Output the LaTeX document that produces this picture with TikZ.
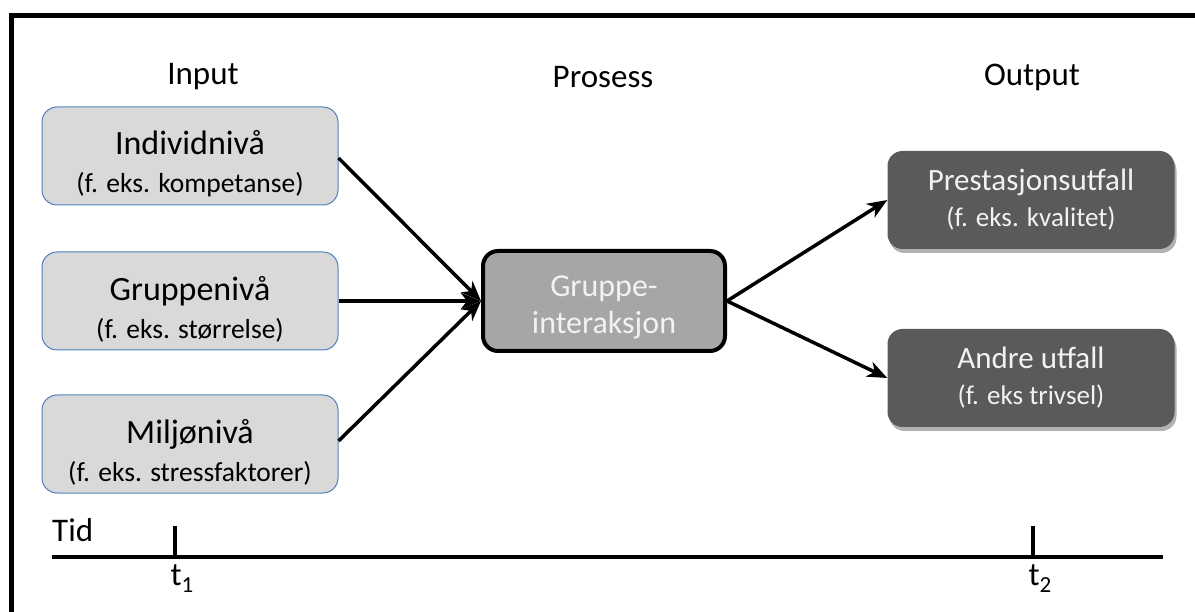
\documentclass[tikz,border=0pt]{standalone}
\usepackage{fontspec}
\setmainfont{Carlito}
\usetikzlibrary{arrows.meta,shadows}
\definecolor{inputfill}{HTML}{D9D9D9}
\definecolor{inputline}{HTML}{4F81BD}
\definecolor{procfill}{HTML}{A6A6A6}
\definecolor{outfill}{HTML}{5A5A5A}
\definecolor{lighttext}{HTML}{F2F2F2}
\tikzset{
  inbox/.style={draw=inputline, line width=1pt, fill=inputfill, rounded corners=15pt,
    minimum width=296pt, minimum height=98pt, align=center, inner sep=0pt,
    font=\fontsize{34}{40}\selectfont},
  procbox/.style={draw=black, line width=4pt, fill=procfill, rounded corners=15pt,
    minimum width=242pt, minimum height=100pt, align=center, inner sep=0pt, text=lighttext,
    font=\fontsize{32}{37}\selectfont},
  outbox/.style={fill=outfill, rounded corners=15pt, minimum width=287pt, minimum height=98pt,
    align=center, inner sep=0pt, text=lighttext, font=\fontsize{31}{38}\selectfont,
    drop shadow={shadow xshift=2pt, shadow yshift=-4pt, opacity=0.3, fill=black}},
  conn/.style={line width=3.5pt, -{Stealth[length=20pt,width=16pt,inset=6pt]}},
  axis/.style={line width=4pt},
  lbl/.style={font=\fontsize{33}{38}\selectfont, inner sep=0pt},
}
\newcommand{\smalltxt}[1]{{\fontsize{27.5}{32}\selectfont #1}}
\newcommand{\outsmall}[1]{{\fontsize{27}{32}\selectfont #1}}
\newcommand{\topstrut}[1]{\rule{0pt}{#1}}
\begin{document}
\begin{tikzpicture}[x=1pt,y=-1pt]
\useasboundingbox (0,0) rectangle (1195,612);
% frame
\coordinate (fa) at (11,612);
\coordinate (fb) at (11,16);
\coordinate (fc) at (1195,16);
\draw[line width=5pt, line cap=rect] (fa) -- (fb) -- (fc);
% headings
\node[lbl] (hin) at (203,77) {Input};
\node[lbl] (hpro) at (603,77) {Prosess};
\node[lbl] (hout) at (1032,77) {Output};
% input boxes
\node[inbox] (ind) at (190,156) {\topstrut{40pt}Individnivå\\[-2pt]\smalltxt{(f. eks. kompetanse)}};
\node[inbox] (grp) at (190,301) {\topstrut{40pt}Gruppenivå\\[-2pt]\smalltxt{(f. eks. størrelse)}};
\node[inbox] (mil) at (190,444) {\topstrut{40pt}Miljønivå\\[-2pt]\smalltxt{(f. eks. stressfaktorer)}};
% process
\node[procbox] (proc) at (604,301) {\topstrut{34pt}Gruppe-\\interaksjon};
% outputs
\node[outbox] (pres) at (1031,200) {Prestasjonsutfall\\[-2pt]\outsmall{(f. eks. kvalitet)}};
\node[outbox] (andre) at (1031,378) {Andre utfall\\[-2pt]\outsmall{(f. eks trivsel)}};
% connectors
\draw[conn] (ind.east |- 0,158) -- (proc.west);
\draw[conn] (grp.east) -- (proc.west);
\draw[conn] (mil.east |- 0,441) -- (proc.west);
\draw[conn] (proc.east) -- (pres.west);
\draw[conn] (proc.east) -- (andre.west);
% time axis
\coordinate (ta) at (52,557);
\coordinate (tb) at (1163,557);
\coordinate (t1) at (175,557);
\coordinate (t2) at (1033,557);
\coordinate (t1u) at (175,526);
\coordinate (t2u) at (1033,526);
\draw[axis] (ta) -- (tb);
\draw[axis] (t1) -- (t1u);
\draw[axis] (t2) -- (t2u);
\node[lbl, anchor=base west] (tid) at (52,541) {Tid};
\node[lbl, anchor=base] (lt1) at (182,585) {t\raisebox{-7pt}{\fontsize{23}{23}\selectfont 1}};
\node[lbl, anchor=base] (lt2) at (1040,585) {t\raisebox{-7pt}{\fontsize{23}{23}\selectfont 2}};
\end{tikzpicture}
\end{document}
